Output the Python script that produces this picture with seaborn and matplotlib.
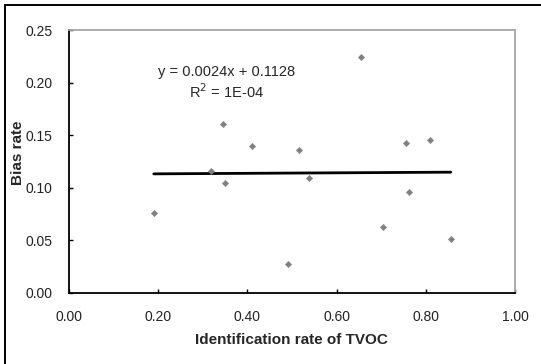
import numpy as np
import pandas as pd
import seaborn as sns
import matplotlib.pyplot as plt
from matplotlib.lines import Line2D

# identification rate of TVOC vs bias rate
ident_rate = [0.19, 0.319, 0.345, 0.350, 0.410, 0.492, 0.515, 0.538,
              0.655, 0.705, 0.755, 0.762, 0.810, 0.856]
bias_rate = [0.076, 0.116, 0.161, 0.105, 0.140, 0.028, 0.136, 0.109,
             0.224, 0.063, 0.143, 0.096, 0.145, 0.051]
slope = 0.0024
intercept = 0.1128
x_ticks = [0.0, 0.2, 0.4, 0.6, 0.8, 1.0]
y_ticks = [0.0, 0.05, 0.10, 0.15, 0.20, 0.25]

df = pd.DataFrame({'x': ident_rate, 'y': bias_rate})
xfit = np.array([min(ident_rate), max(ident_rate)])
fit = pd.DataFrame({'x': xfit, 'y': slope * xfit + intercept})

sns.set_style('white')
plt.rcParams['font.family'] = ['Liberation Sans', 'DejaVu Sans']

fig = plt.figure(figsize=(5.41, 3.64), dpi=100)
ax = fig.add_axes([69/541, 71/364, 446/541, 263/364])

# outer chart frame, only the top and left edges show
fx = 4.5 / 541
fy = 1 - 4.5 / 364
fig.lines.append(Line2D([fx, 1], [fy, fy], transform=fig.transFigure, color='black', lw=1.4))
fig.lines.append(Line2D([fx, fx], [0, fy], transform=fig.transFigure, color='black', lw=1.4))

sns.lineplot(data=fit, x='x', y='y', ax=ax, color='black', linewidth=2)
sns.scatterplot(data=df, x='x', y='y', ax=ax, marker='D', s=11, color='#808080',
                edgecolor='#808080', zorder=3)

ax.set_xlim(0, 1)
ax.set_ylim(0, 0.25)
ax.set_xticks(x_ticks)
ax.set_yticks(y_ticks)
ax.set_xticklabels(['%.2f' % v for v in x_ticks])
ax.set_yticklabels(['%.2f' % v for v in y_ticks])
ax.tick_params(direction='in', length=3, width=1, labelsize=10, pad=12,
               bottom=True, left=True, colors='black')
ax.tick_params(axis='both', labelcolor='#222222')

for s in ['left', 'bottom']:
    ax.spines[s].set_color('black')
    ax.spines[s].set_linewidth(1.3)
for s in ['top', 'right']:
    ax.spines[s].set_color('#a6a6a6')
    ax.spines[s].set_linewidth(1.3)

ax.set_xlabel('Identification rate of TVOC', fontsize=11, fontweight='bold')
ax.set_ylabel('Bias rate', fontsize=11, fontweight='bold')
ax.xaxis.set_label_coords(0.498, -0.152)
ax.yaxis.set_label_coords(-0.098, 0.532)

ax.text(0.353, 0.2104, 'y = 0.0024x + 0.1128', fontsize=10.5, ha='center', va='center')
ax.text(0.353, 0.1914, r'R$^2$ = 1E-04', fontsize=10.5, ha='center', va='center')

fig.savefig('out.png', dpi=100)
